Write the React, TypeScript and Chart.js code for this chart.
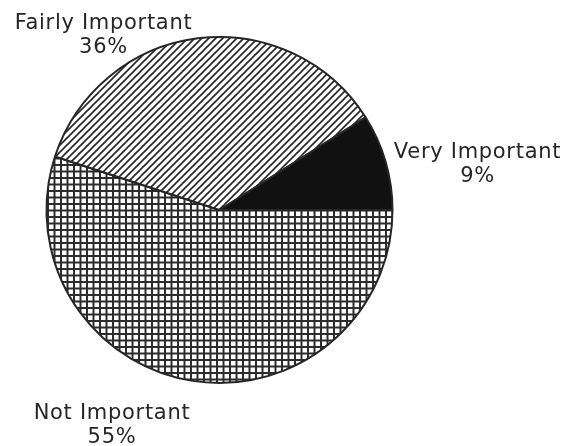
import React, { useEffect, useRef } from "react";
import { Chart, registerables } from "chart.js";

Chart.register(...registerables);

// Survey answers, drawn clockwise from the 3 o'clock position
const categories = ["Not Important", "Fairly Important", "Very Important"];
const shares = [55, 36, 9];

const INK = "#262626";

function crossHatch(): CanvasPattern | string {
  const tile = document.createElement("canvas");
  tile.width = 13;
  tile.height = 13;
  const c = tile.getContext("2d");
  if (!c) return "#ccc";
  c.fillStyle = "#ffffff";
  c.fillRect(0, 0, 13, 13);
  c.fillStyle = "#2c2c2c";
  c.fillRect(0, 0, 2, 13);
  c.fillRect(6.5, 0, 2, 13);
  c.fillRect(0, 0, 13, 2);
  c.fillRect(0, 6.5, 13, 2);
  return c.createPattern(tile, "repeat") || "#ccc";
}

function diagonalHatch(): CanvasPattern | string {
  const s = 7;
  const tile = document.createElement("canvas");
  tile.width = s;
  tile.height = s;
  const c = tile.getContext("2d");
  if (!c) return "#ddd";
  c.fillStyle = "#ffffff";
  c.fillRect(0, 0, s, s);
  c.strokeStyle = "#262626";
  c.lineWidth = 1.6;
  c.beginPath();
  c.moveTo(-1, s + 1);
  c.lineTo(s + 1, -1);
  c.moveTo(-1, 1);
  c.lineTo(1, -1);
  c.moveTo(s - 1, s + 1);
  c.lineTo(s + 1, s - 1);
  c.stroke();
  return c.createPattern(tile, "repeat") || "#ddd";
}

// Where each two-line label sits, relative to the pie centre
const labelOffsets = [
  { dx: -107.5, dy: 209 },
  { dx: -116, dy: -181 },
  { dx: 258, dy: -52 },
];

const sliceLabels = {
  id: "sliceLabels",
  afterDraw(chart: any) {
    const ctx = chart.ctx as CanvasRenderingContext2D;
    const arcs = chart.getDatasetMeta(0).data;
    if (!arcs.length) return;
    const cx = arcs[0].x;
    const cy = arcs[0].y;
    ctx.save();
    ctx.fillStyle = INK;
    ctx.font = '21px "DejaVu Sans"';
    (ctx as any).letterSpacing = "0.7px";
    ctx.textAlign = "center";
    ctx.textBaseline = "alphabetic";
    categories.forEach((name, i) => {
      const o = labelOffsets[i];
      const x = cx + o.dx;
      const y = cy + o.dy;
      ctx.fillText(name, x, y);
      ctx.fillText(`${shares[i]}%`, x, y + 23.5);
    });
    ctx.restore();
  },
};

export default function App() {
  const ref = useRef<HTMLCanvasElement | null>(null);

  useEffect(() => {
    if (!ref.current) return;
    const chart = new Chart(ref.current, {
      type: "pie",
      data: {
        labels: categories,
        datasets: [
          {
            data: shares,
            backgroundColor: [crossHatch(), diagonalHatch(), "#111111"],
            borderColor: INK,
            borderWidth: 2,
            hoverOffset: 0,
          },
        ],
      },
      options: {
        responsive: false,
        animation: false,
        devicePixelRatio: 1,
        rotation: 90,
        layout: {
          padding: { left: 37.5, right: 175.5, top: 28, bottom: 62 },
        },
        plugins: {
          legend: { display: false },
          tooltip: { enabled: false },
        },
        events: [],
      },
      plugins: [sliceLabels],
    });
    return () => chart.destroy();
  }, []);

  return (
    <div style={{ width: 561, height: 438, background: "#ffffff" }}>
      <canvas ref={ref} width={561} height={438} style={{ display: "block" }} />
    </div>
  );
}
